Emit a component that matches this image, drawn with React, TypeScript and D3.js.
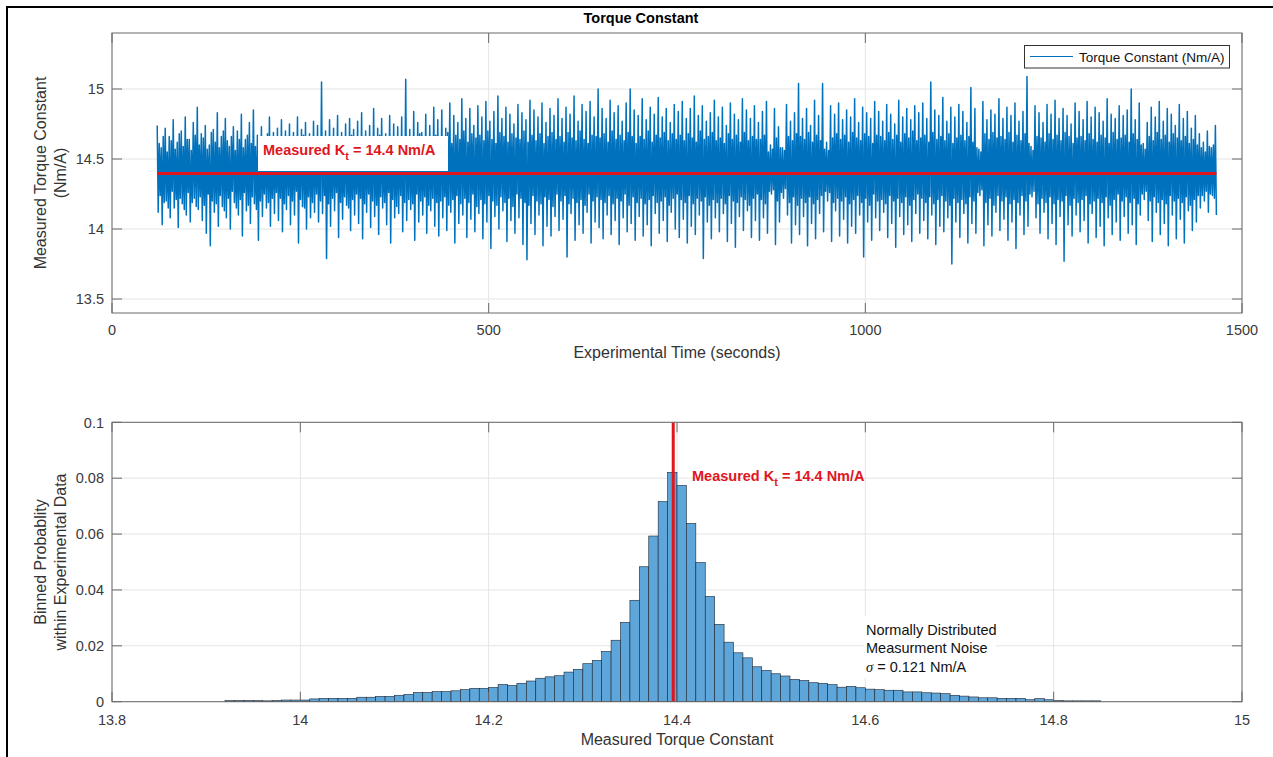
import React from "react";
import * as d3 from "d3";

// ---------- data ----------
// Measured torque constant (Nm/A), sampled uniformly from 60 s to 1466 s
const timeStart = 60;
const timeEnd = 1466;
const torqueSamples: number[] = [
  14.74,14.12,14.61,14.24,14.58,14.03,14.66,14.19,14.72,14.20,14.55,14.15,14.66,14.08,14.63,14.27,14.78,14.15,14.57,14.21,
  14.62,14.01,14.68,14.22,14.70,14.18,14.59,14.14,14.80,14.10,14.64,14.26,14.64,14.05,14.56,14.19,14.76,14.22,14.67,14.16,
  14.87,14.14,14.60,14.23,14.68,14.06,14.65,14.17,14.74,13.97,14.57,14.25,14.60,13.88,14.69,14.20,14.71,14.12,14.62,14.18,
  14.83,14.02,14.58,14.24,14.66,14.16,14.70,14.13,14.79,14.08,14.63,14.22,14.59,14.00,14.66,14.27,14.73,14.19,14.56,14.15,
  14.70,14.10,14.64,14.21,14.82,13.95,14.58,14.26,14.64,14.13,14.67,14.17,14.76,14.04,14.61,14.23,14.85,14.18,14.59,14.14,
  14.67,13.92,14.65,14.20,14.73,14.09,14.56,14.25,14.61,14.15,14.68,14.19,14.80,14.02,14.62,14.22,14.69,14.11,14.60,14.26,
  14.72,14.06,14.63,14.22,14.78,13.98,14.57,14.18,14.70,14.14,14.66,14.24,14.75,14.03,14.60,14.20,14.69,14.10,14.64,14.27,
  14.80,13.90,14.59,14.21,14.71,14.16,14.67,14.15,14.76,14.00,14.62,14.23,14.68,14.08,14.58,14.19,14.77,14.12,14.65,14.25,
  14.74,14.05,14.61,14.20,15.05,14.11,14.63,14.24,14.70,13.79,14.58,14.18,14.78,14.02,14.66,14.22,14.72,14.13,14.60,14.26,
  14.81,13.94,14.64,14.19,14.69,14.07,14.57,14.23,14.75,14.17,14.62,14.15,14.79,13.99,14.67,14.21,14.71,14.10,14.59,14.25,
  14.77,14.04,14.62,14.22,14.83,13.93,14.66,14.18,14.70,14.12,14.59,14.25,14.74,14.01,14.64,14.20,14.86,14.09,14.61,14.17,
  14.72,13.96,14.67,14.23,14.79,14.15,14.58,14.19,14.68,14.03,14.65,14.26,14.81,13.90,14.60,14.21,14.75,14.08,14.63,14.16,
  14.73,14.11,14.64,14.24,14.80,13.98,14.60,14.19,15.07,14.06,14.66,14.21,14.71,14.14,14.57,14.18,14.84,13.92,14.62,14.25,
  14.76,14.05,14.68,14.20,14.69,14.10,14.61,14.23,14.82,13.97,14.65,14.17,14.74,14.13,14.59,14.22,14.87,14.02,14.67,14.19,
  14.78,13.95,14.66,14.20,14.85,14.08,14.63,14.23,14.72,13.99,14.69,14.17,14.90,14.12,14.61,14.21,14.81,13.90,14.67,14.24,
  14.76,14.04,14.64,14.18,14.93,14.10,14.70,14.22,14.79,13.94,14.62,14.19,14.86,14.07,14.68,14.25,14.74,13.98,14.65,14.16,
  14.88,14.11,14.67,14.21,14.80,13.93,14.63,14.18,14.91,14.05,14.70,14.24,14.77,13.86,14.64,14.20,14.84,14.09,14.61,14.17,
  14.95,14.00,14.69,14.23,14.79,14.13,14.66,14.19,14.87,13.91,14.62,14.22,14.82,14.06,14.68,14.16,14.75,13.97,14.65,14.25,
  14.89,14.08,14.64,14.22,14.83,13.89,14.70,14.19,14.78,13.78,14.62,14.17,14.92,14.04,14.67,14.24,14.85,13.96,14.63,14.20,
  14.80,14.10,14.68,14.18,14.90,13.88,14.61,14.23,14.76,14.02,14.66,14.21,14.86,13.95,14.69,14.16,14.81,14.09,14.64,14.25,
  14.93,13.99,14.66,14.20,14.79,14.07,14.62,14.24,14.87,13.80,14.69,14.18,14.82,14.11,14.65,14.22,14.95,13.92,14.63,14.19,
  14.77,14.03,14.70,14.21,14.89,13.97,14.64,14.17,14.84,14.12,14.61,14.25,14.91,13.90,14.67,14.20,14.80,14.05,14.66,14.23,
  15.00,14.01,14.65,14.21,14.86,13.93,14.68,14.19,14.79,14.10,14.62,14.24,14.92,13.96,14.70,14.18,14.83,14.06,14.64,14.22,
  14.88,13.89,14.67,14.20,14.77,14.08,14.63,14.25,14.90,13.98,14.69,14.17,15.00,14.04,14.66,14.23,14.85,13.92,14.61,14.19,
  14.81,14.09,14.66,14.22,14.93,13.95,14.64,14.18,14.78,14.03,14.70,14.21,14.87,13.88,14.62,14.24,14.82,14.11,14.67,14.19,
  14.94,13.97,14.65,14.20,14.80,14.06,14.69,14.23,14.86,13.91,14.63,14.17,14.76,14.12,14.68,14.22,14.89,14.00,14.64,14.25,
  14.84,13.94,14.67,14.21,14.91,14.07,14.63,14.19,14.79,13.90,14.68,14.24,14.86,14.02,14.65,14.18,14.95,13.96,14.62,14.22,
  14.81,14.10,14.70,14.20,14.88,13.79,14.64,14.23,14.77,14.05,14.66,14.17,14.83,13.93,14.69,14.21,14.92,14.08,14.63,14.19,
  14.80,13.98,14.65,14.22,14.87,14.11,14.61,14.18,14.74,13.91,14.68,14.24,14.90,14.04,14.64,14.20,14.82,13.87,14.67,14.19,
  14.78,14.09,14.62,14.23,14.93,13.99,14.69,14.21,14.85,14.13,14.63,14.17,14.79,13.94,14.66,14.22,14.88,14.06,14.64,14.25,
  14.76,13.92,14.64,14.21,14.84,14.08,14.67,14.18,14.91,13.97,14.55,14.27,14.60,14.25,14.57,14.28,14.86,13.89,14.65,14.20,
  14.73,14.05,14.58,14.26,14.58,14.22,14.56,14.29,14.89,14.10,14.66,14.19,14.77,13.90,14.63,14.23,14.83,14.03,14.68,14.17,
  15.04,13.96,14.66,14.22,14.79,14.09,14.64,14.19,14.86,13.88,14.69,14.23,14.74,14.04,14.62,14.18,14.92,13.93,14.67,14.21,
  14.81,14.11,14.63,14.24,15.04,13.98,14.57,14.27,14.62,14.20,14.56,14.26,14.88,13.91,14.65,14.19,14.82,14.13,14.68,14.22,
  14.90,13.95,14.64,14.20,14.78,14.07,14.67,14.23,14.85,13.90,14.62,14.18,14.80,14.02,14.69,14.21,14.93,13.97,14.65,14.24,
  14.76,14.10,14.63,14.19,14.87,13.80,14.68,14.22,14.83,14.05,14.66,14.17,14.79,13.92,14.61,14.25,14.91,14.08,14.67,14.20,
  14.84,13.99,14.66,14.21,14.77,14.12,14.63,14.18,14.89,13.94,14.69,14.24,14.82,14.04,14.64,14.20,14.75,13.87,14.67,14.22,
  14.92,14.09,14.62,14.19,14.80,13.96,14.68,14.23,14.86,14.03,14.65,14.17,14.78,13.91,14.70,14.21,14.88,14.11,14.63,14.25,
  14.83,13.97,14.65,14.22,14.90,14.06,14.67,14.19,14.79,13.93,14.62,14.23,15.05,14.10,14.69,14.18,14.85,13.89,14.64,14.21,
  14.81,14.02,14.66,14.24,14.94,13.98,14.63,14.20,14.77,14.08,14.68,14.17,14.87,13.75,14.61,14.22,14.80,14.05,14.65,14.19,
  14.89,13.94,14.67,14.21,14.84,14.11,14.63,14.18,14.76,13.90,14.66,14.23,15.01,14.04,14.62,14.20,14.86,13.97,14.58,14.26,
  14.57,14.24,14.55,14.28,14.91,13.88,14.68,14.19,14.78,14.03,14.64,14.22,14.85,13.95,14.69,14.17,14.82,14.12,14.65,14.24,
  14.93,13.99,14.66,14.20,14.79,14.07,14.64,14.23,14.87,13.92,14.69,14.18,14.81,14.05,14.62,14.21,14.90,13.86,14.67,14.19,
  14.77,14.10,14.63,14.24,14.84,13.96,14.68,14.20,15.09,14.02,14.61,14.25,14.59,14.23,14.56,14.27,14.88,14.08,14.66,14.18,
  14.83,13.97,14.65,14.22,14.76,14.12,14.62,14.19,14.89,13.93,14.68,14.23,14.82,14.04,14.64,14.18,14.92,13.89,14.67,14.21,
  14.79,14.09,14.63,14.20,14.86,13.77,14.69,14.24,14.81,14.03,14.66,14.17,14.75,13.95,14.61,14.22,14.90,14.10,14.65,14.19,
  14.84,13.98,14.66,14.21,14.78,14.06,14.63,14.24,14.91,13.90,14.68,14.18,14.80,14.11,14.64,14.20,14.87,13.94,14.62,14.22,
  14.83,14.02,14.67,14.19,14.77,13.88,14.65,14.23,14.93,14.08,14.61,14.17,14.82,13.96,14.69,14.21,14.79,14.05,14.64,14.25,
  14.88,13.92,14.65,14.20,14.81,14.09,14.67,14.23,14.85,13.97,14.62,14.19,15.00,14.03,14.68,14.22,14.78,13.89,14.64,14.18,
  14.90,14.10,14.60,14.25,14.61,14.21,14.57,14.27,14.76,14.06,14.66,14.20,14.87,13.91,14.63,14.23,14.80,14.12,14.69,14.19,
  14.91,13.96,14.64,14.21,14.77,14.04,14.67,14.18,14.86,13.88,14.62,14.24,14.82,14.10,14.68,14.20,14.74,13.93,14.65,14.22,
  14.89,14.07,14.63,14.19,14.79,13.90,14.66,14.23,14.84,14.13,14.61,14.17,14.72,13.99,14.64,14.21,14.81,14.05,14.60,14.24,
  14.68,14.15,14.58,14.24,14.62,14.20,14.55,14.27,14.70,14.12,14.59,14.25,14.58,14.24,14.60,14.22,14.74,14.10,
];

// Estimated torque constant (Nm/A) and noise spread
const measuredKt = 14.396;
const noiseSigma = 0.121;

// Histogram: bin edges every 0.01 Nm/A starting at 13.92, probability per bin
const histFirstEdge = 13.92;
const histBinWidth = 0.01;
const histProbability: number[] = [
  0.0004,0.0004,0.0004,0.0004,0.0003,0.0004,0.0006,0.0006,
  0.0006,0.0010,0.0012,0.0012,0.0012,0.0012,0.0016,0.0016,0.0019,0.0019,
  0.0023,0.0026,0.0033,0.0033,0.0036,0.0036,0.0039,0.0043,0.0048,0.0048,
  0.0051,0.0062,0.0058,0.0066,0.0074,0.0084,0.0089,0.0093,0.0106,0.0116,
  0.0136,0.0148,0.0180,0.0220,0.0284,0.0363,0.0483,0.0593,0.0716,0.0821,
  0.0774,0.0638,0.0498,0.0377,0.0277,0.0213,0.0175,0.0157,0.0125,0.0112,
  0.0100,0.0092,0.0080,0.0076,0.0068,0.0066,0.0061,0.0052,0.0055,0.0050,
  0.0045,0.0043,0.0041,0.0041,0.0035,0.0035,0.0032,0.0031,0.0029,0.0023,
  0.0020,0.0017,0.0014,0.0014,0.0012,0.0012,0.0012,0.0007,0.0011,0.0007,
  0.0004,0.0003,0.0003,0.0003,0.0003,
];

// Axis ticks
const timeTicks = [0, 500, 1000, 1500];
const torqueTicks = [13.5, 14, 14.5, 15];
const histXTicks = [13.8, 14, 14.2, 14.4, 14.6, 14.8, 15];
const histYTicks = [0, 0.02, 0.04, 0.06, 0.08, 0.1];

// ---------- styling ----------
const FONT = "'Liberation Sans', Arial, Helvetica, sans-serif";
const BLUE = "#0072BD";
const BAR = "#5EA5D9";
const RED = "#E0161E";
const AXIS = "#6a6a6a";
const GRID = "#e4e4e4";
const TICK_TEXT = "#3a3a3a";

const W = 1273;
const H = 757;
const L = 112;
const R = 1242;
const top1 = { y0: 33, y1: 313 };
const top2 = { y0: 422.3, y1: 701.7 };

const fmt = d3.format("~g");

function Frame({ y0, y1, xs, ys, xScale, yScale }: any) {
  const tl = 10;
  return (
    <g>
      <rect x={L} y={y0} width={R - L} height={y1 - y0} fill="none" stroke={AXIS} strokeWidth={1} />
      {xs.map((v: number) => {
        const x = xScale(v);
        return (
          <g key={"xt" + v}>
            <line x1={x} x2={x} y1={y1} y2={y1 - tl} stroke={AXIS} />
            <line x1={x} x2={x} y1={y0} y2={y0 + tl} stroke={AXIS} />
          </g>
        );
      })}
      {ys.map((v: number) => {
        const y = yScale(v);
        return (
          <g key={"yt" + v}>
            <line x1={L} x2={L + tl} y1={y} y2={y} stroke={AXIS} />
            <line x1={R} x2={R - tl} y1={y} y2={y} stroke={AXIS} />
          </g>
        );
      })}
    </g>
  );
}

function Grid({ y0, y1, xs, ys, xScale, yScale }: any) {
  return (
    <g>
      {xs.map((v: number) => (
        <line key={"gx" + v} x1={xScale(v)} x2={xScale(v)} y1={y0} y2={y1} stroke={GRID} strokeWidth={1} />
      ))}
      {ys.map((v: number) => (
        <line key={"gy" + v} x1={L} x2={R} y1={yScale(v)} y2={yScale(v)} stroke={GRID} strokeWidth={1} />
      ))}
    </g>
  );
}

function TickLabels({ xs, ys, xScale, yScale, xBase }: any) {
  return (
    <g fontFamily={FONT} fontSize={14.5} fill={TICK_TEXT}>
      {xs.map((v: number) => (
        <text key={"xl" + v} x={xScale(v)} y={xBase} textAnchor="middle">{fmt(v)}</text>
      ))}
      {ys.map((v: number) => (
        <text key={"yl" + v} x={104} y={yScale(v)} dy="0.36em" textAnchor="end">{fmt(v)}</text>
      ))}
    </g>
  );
}

export default function App() {
  const xTime = d3.scaleLinear().domain([0, 1500]).range([L, R]);
  const yTorque = d3.scaleLinear().domain([13.4, 15.4]).range([top1.y1, top1.y0]);
  const xHist = d3.scaleLinear().domain([13.8, 15]).range([L, R]);
  const yHist = d3.scaleLinear().domain([0, 0.1]).range([top2.y1, top2.y0]);

  const dt = (timeEnd - timeStart) / (torqueSamples.length - 1);
  const series = torqueSamples.map((v, i) => ({ t: timeStart + i * dt, v }));
  const linePath = d3
    .line<{ t: number; v: number }>()
    .x((d) => xTime(d.t))
    .y((d) => yTorque(d.v))(series) as string;

  const ktText = ` = ${d3.format(".1f")(measuredKt)} Nm/A`;
  const bins = histProbability.map((p, i) => ({
    x0: histFirstEdge + i * histBinWidth,
    x1: histFirstEdge + (i + 1) * histBinWidth,
    p,
  }));

  return (
    <svg
      width={W}
      height={H}
      viewBox={`0 0 ${W} ${H}`}
      style={{ position: "absolute", left: 0, top: 0, background: "#fff" }}
    >
      <rect x={0} y={0} width={W} height={H} fill="#fff" />
      {/* figure border */}
      <line x1={7} x2={7} y1={6} y2={H} stroke="#000" strokeWidth={2} />
      <line x1={6} x2={W} y1={7} y2={7} stroke="#000" strokeWidth={2} />

      {/* title */}
      <text x={641} y={23} textAnchor="middle" fontFamily={FONT} fontSize={14.5} fontWeight="bold" fill="#000">
        Torque Constant
      </text>

      {/* ---------- time series panel ---------- */}
      <Grid y0={top1.y0} y1={top1.y1} xs={timeTicks} ys={torqueTicks} xScale={xTime} yScale={yTorque} />
      <path d={linePath} fill="none" stroke={BLUE} strokeWidth={1.5} strokeLinejoin="round" />
      <line
        x1={xTime(timeStart)}
        x2={xTime(timeEnd)}
        y1={yTorque(measuredKt)}
        y2={yTorque(measuredKt)}
        stroke={RED}
        strokeWidth={3}
      />
      <rect x={258} y={136} width={190} height={35} fill="#fff" />
      <text x={263} y={155} fontFamily={FONT} fontSize={14.5} fontWeight="bold" fill={RED}>
        <tspan>Measured K</tspan>
        <tspan dy={5} fontSize={11}>t</tspan>
        <tspan dy={-5}>{ktText}</tspan>
      </text>
      <Frame y0={top1.y0} y1={top1.y1} xs={timeTicks} ys={torqueTicks} xScale={xTime} yScale={yTorque} />
      <TickLabels xs={timeTicks} ys={torqueTicks} xScale={xTime} yScale={yTorque} xBase={335} />

      {/* legend */}
      <rect x={1024.5} y={45.5} width={205} height={22.5} fill="#fff" stroke="#333" strokeWidth={1} />
      <line x1={1030} x2={1073} y1={56.5} y2={56.5} stroke={BLUE} strokeWidth={1} />
      <text x={1079} y={61.5} fontFamily={FONT} fontSize={13.5} fill="#111">Torque Constant (Nm/A)</text>

      {/* axis labels */}
      <text x={677} y={358} textAnchor="middle" fontFamily={FONT} fontSize={16} fill="#333">
        Experimental Time (seconds)
      </text>
      <g fontFamily={FONT} fontSize={16} fill="#333" textAnchor="middle">
        <text transform={`translate(46,${(top1.y0 + top1.y1) / 2}) rotate(-90)`}>Measured Torque Constant</text>
        <text transform={`translate(66,${(top1.y0 + top1.y1) / 2}) rotate(-90)`}>(Nm/A)</text>
      </g>

      {/* ---------- histogram panel ---------- */}
      <Grid y0={top2.y0} y1={top2.y1} xs={histXTicks} ys={histYTicks} xScale={xHist} yScale={yHist} />
      {/* annotation background */}
      <rect x={864} y={616} width={132} height={62} fill="#fff" />
      <g>
        {bins.map((b) => (
          <rect
            key={b.x0.toFixed(2)}
            x={xHist(b.x0)}
            y={yHist(b.p)}
            width={xHist(b.x1) - xHist(b.x0)}
            height={yHist(0) - yHist(b.p)}
            fill={BAR}
            stroke="#1b2633"
            strokeWidth={0.6}
          />
        ))}
      </g>
      <line
        x1={xHist(measuredKt)}
        x2={xHist(measuredKt)}
        y1={top2.y0}
        y2={top2.y1}
        stroke={RED}
        strokeWidth={3}
      />
      <text x={692} y={481} fontFamily={FONT} fontSize={14.5} fontWeight="bold" fill={RED}>
        <tspan>Measured K</tspan>
        <tspan dy={5} fontSize={11}>t</tspan>
        <tspan dy={-5}>{ktText}</tspan>
      </text>
      <g fontFamily={FONT} fontSize={14.5} fill="#111">
        <text x={866} y={635}>Normally Distributed</text>
        <text x={866} y={653}>Measurment Noise</text>
        <text x={866} y={672}>
          <tspan fontFamily="'Liberation Serif', 'DejaVu Serif', serif" fontStyle="italic">σ</tspan>
          <tspan>{` = ${d3.format(".3f")(noiseSigma)} Nm/A`}</tspan>
        </text>
      </g>
      <Frame y0={top2.y0} y1={top2.y1} xs={histXTicks} ys={histYTicks} xScale={xHist} yScale={yHist} />
      <TickLabels xs={histXTicks} ys={histYTicks} xScale={xHist} yScale={yHist} xBase={725} />

      <text x={677} y={745} textAnchor="middle" fontFamily={FONT} fontSize={16} fill="#333">
        Measured Torque Constant
      </text>
      <g fontFamily={FONT} fontSize={16} fill="#333" textAnchor="middle">
        <text transform={`translate(46,${(top2.y0 + top2.y1) / 2}) rotate(-90)`}>Binned Probablity</text>
        <text transform={`translate(66,${(top2.y0 + top2.y1) / 2}) rotate(-90)`}>within Experimental Data</text>
      </g>
    </svg>
  );
}
